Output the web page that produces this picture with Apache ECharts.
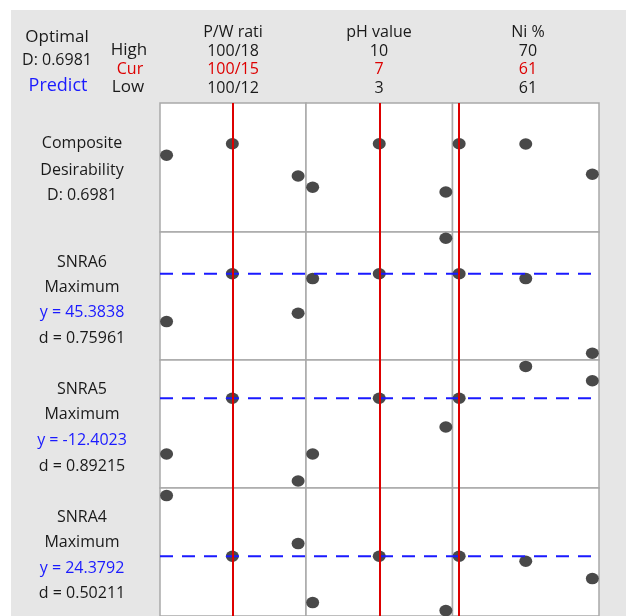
<!DOCTYPE html>
<html><head><meta charset="utf-8">
<script src="https://cdn.jsdelivr.net/npm/echarts@6/dist/echarts.min.js"></script>
<style>html,body{margin:0;padding:0;background:#fff}#c{width:626px;height:616px}</style>
</head><body><div id="c"></div>
<script>
// ---- data ----
const factors = ['P/W rati', 'pH value', 'Ni %'];
const highLabels = ['100/18', '10', '70'];
const curLabels = ['100/15', '7', '61'];
const lowLabels = ['100/12', '3', '61'];
const levels = [1, 2, 3];           // low, middle, high level index
const curLevel = [2, 2, 1];         // current setting (level index) per factor
const responses = ['SNRA6', 'SNRA5', 'SNRA4'];
const goals = ['Maximum', 'Maximum', 'Maximum'];
const compositeD = 0.6981;
const predicted = [45.3838, -12.4023, 24.3792];
const desirability = [0.75961, 0.89215, 0.50211];
// values at each level (rows: factor, cols: level)
const compositeVals = [[0.6065, 0.6981, 0.4428], [0.3534, 0.6981, 0.3163], [0.6981, 0.6958, 0.4562]];
const snra6Vals = [[42.99, 45.3838, 43.41], [45.14, 45.3838, 47.16], [45.3838, 45.14, 41.41]];
const snra5Vals = [[-15.19, -12.4023, -16.54], [-15.19, -12.4023, -13.84], [-12.4023, -10.81, -11.53]];
const snra4Vals = [[27.41, 24.3792, 25.01], [22.06, 24.3792, 21.66], [24.3792, 24.13, 23.26]];
const yMins = [0, 41.07, -16.89, 21.39];
const yMaxs = [1.02, 47.47, -10.49, 27.79];

// ---- layout ----
const rowVals = [compositeVals, snra6Vals, snra5Vals, snra4Vals];
const rowRef = [null, predicted[0], predicted[1], predicted[2]];
const colLeft = [160, 306, 452.5];
const colW = [146, 146.5, 146.5];
const colXMin = [0.9, 0.9, 0.9];
const colXMax = [3.12, 3.1, 3.1];
const rowTop = [103, 232, 360, 488];
const rowH = [129, 128, 128, 129];
const FONT = 'Open Sans';
const BLACK = '#1a1a1a', RED = '#dd0000', BLUE = '#1a1aff';

const grids = [], xAxes = [], yAxes = [], series = [];
let gi = 0;
for (let r = 0; r < 4; r++) {
  for (let c = 0; c < 3; c++) {
    grids.push({left: colLeft[c], top: rowTop[r], width: colW[c], height: rowH[r], show: true,
      backgroundColor: '#ffffff', borderColor: '#a9a9a9', borderWidth: 1.5, z: 0});
    xAxes.push({gridIndex: gi, type: 'value', min: colXMin[c], max: colXMax[c], show: false});
    yAxes.push({gridIndex: gi, type: 'value', min: yMins[r], max: yMaxs[r], show: false});
    series.push({
      type: 'scatter', xAxisIndex: gi, yAxisIndex: gi, z: 3,
      symbol: 'circle', symbolSize: [13, 11.5], silent: true,
      itemStyle: {color: '#494949', opacity: 1},
      data: levels.map((lv, i) => [lv, rowVals[r][c][i]])
    });
    series.push({
      type: 'line', xAxisIndex: gi, yAxisIndex: gi, z: 5, data: [], silent: true,
      markLine: {silent: true, symbol: 'none', animation: false,
        label: {show: false}, lineStyle: {color: RED, width: 2, type: 'solid', opacity: 1},
        data: [{xAxis: curLevel[c]}]}
    });
    gi++;
  }
  if (rowRef[r] !== null) {
    // overlay grid for the continuous dashed reference line across the row
    grids.push({left: 160, top: rowTop[r], width: 432.5, height: rowH[r], show: false});
    xAxes.push({gridIndex: gi, type: 'value', min: 0, max: 1, show: false});
    yAxes.push({gridIndex: gi, type: 'value', min: yMins[r], max: yMaxs[r], show: false});
    series.push({
      type: 'line', xAxisIndex: gi, yAxisIndex: gi, z: 4, silent: true,
      symbol: 'none', lineStyle: {color: BLUE, width: 2, type: [13, 9]},
      data: [[0, rowRef[r]], [1, rowRef[r]]]
    });
    gi++;
  }
}

function txt(x, y, s, color, size) {
  return {type: 'text', x: x, y: y, z: 10, silent: true,
    style: {text: s, fill: color || BLACK, font: (size || 16) + 'px "' + FONT + '"',
      textAlign: 'center', textVerticalAlign: 'middle'}};
}
const g = [{type: 'rect', shape: {x: 11, y: 10, width: 615, height: 606}, style: {fill: '#e6e6e6'}, z: -10, silent: true}];
g.push(txt(57, 37, 'Optimal', BLACK, 17));
g.push(txt(57, 60, 'D: ' + compositeD.toFixed(4), BLACK, 16));
g.push(txt(58, 86, 'Predict', BLUE, 18));
g.push(txt(129, 50, 'High', BLACK, 17));
g.push(txt(130, 69, 'Cur', RED, 16));
g.push(txt(128, 87, 'Low', BLACK, 17));
const colCx = [233, 379, 528];
for (let c = 0; c < 3; c++) {
  g.push(txt(colCx[c], 32, factors[c], BLACK, 16));
  g.push(txt(colCx[c], 51, highLabels[c], BLACK, 16));
  g.push(txt(colCx[c], 69, curLabels[c], RED, 16));
  g.push(txt(colCx[c], 88, lowLabels[c], BLACK, 16));
}
const LX = 82;
g.push(txt(LX, 143, 'Composite', BLACK, 16));
g.push(txt(LX, 170, 'Desirability', BLACK, 16));
g.push(txt(LX, 195, 'D: ' + compositeD.toFixed(4), BLACK, 16));
const rowTextY = [[262, 287, 312, 338], [389, 414, 440, 466], [517, 542, 568, 593]];
for (let k = 0; k < 3; k++) {
  const ys = rowTextY[k];
  g.push(txt(LX, ys[0], responses[k], BLACK, 16));
  g.push(txt(LX, ys[1], goals[k], BLACK, 16));
  g.push(txt(LX, ys[2], 'y = ' + predicted[k].toFixed(4), BLUE, 16));
  g.push(txt(LX, ys[3], 'd = ' + desirability[k].toFixed(5), BLACK, 16));
}

const chart = echarts.init(document.getElementById('c'), null, {renderer: 'canvas'});
chart.setOption({
  animation: false,
  backgroundColor: '#ffffff',
  grid: grids, xAxis: xAxes, yAxis: yAxes, series: series, graphic: g
});
</script></body></html>
